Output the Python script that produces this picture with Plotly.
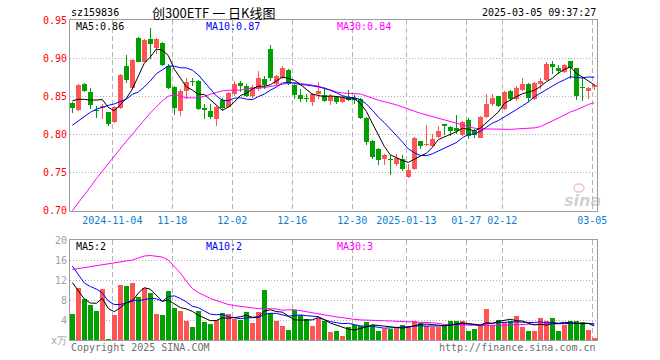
import plotly.graph_objects as go

# ---------------- data ----------------
dates = [
    "2024-10-24", "2024-10-25", "2024-10-28", "2024-10-29", "2024-10-30", "2024-10-31",
    "2024-11-01", "2024-11-04", "2024-11-05", "2024-11-06", "2024-11-07", "2024-11-08",
    "2024-11-11", "2024-11-12", "2024-11-13", "2024-11-14", "2024-11-15",
    "2024-11-18", "2024-11-19", "2024-11-20", "2024-11-21", "2024-11-22",
    "2024-11-25", "2024-11-26", "2024-11-27", "2024-11-28", "2024-11-29",
    "2024-12-02", "2024-12-03", "2024-12-04", "2024-12-05", "2024-12-06",
    "2024-12-09", "2024-12-10", "2024-12-11", "2024-12-12", "2024-12-13",
    "2024-12-16", "2024-12-17", "2024-12-18", "2024-12-19", "2024-12-20",
    "2024-12-23", "2024-12-24", "2024-12-25", "2024-12-26", "2024-12-27",
    "2024-12-30", "2024-12-31", "2025-01-02", "2025-01-03",
    "2025-01-06", "2025-01-07", "2025-01-08", "2025-01-09", "2025-01-10",
    "2025-01-13", "2025-01-14", "2025-01-15", "2025-01-16", "2025-01-17",
    "2025-01-20", "2025-01-21", "2025-01-22", "2025-01-23", "2025-01-24",
    "2025-01-27", "2025-02-05", "2025-02-06", "2025-02-07",
    "2025-02-10", "2025-02-11", "2025-02-12", "2025-02-13", "2025-02-14",
    "2025-02-17", "2025-02-18", "2025-02-19", "2025-02-20", "2025-02-21",
    "2025-02-24", "2025-02-25", "2025-02-26", "2025-02-27", "2025-02-28",
    "2025-03-03", "2025-03-04", "2025-03-05",
]

opens = [0.841, 0.8325, 0.866, 0.856, 0.8316, 0.835, 0.829, 0.8167, 0.834, 0.8895,
         0.8605, 0.9263, 0.8956, 0.9246, 0.913, 0.920, 0.890, 0.8618, 0.831, 0.8575,
         0.8706, 0.870, 0.8342, 0.831, 0.8202, 0.8456, 0.8355, 0.8531, 0.8675, 0.8632,
         0.850, 0.8596, 0.8728, 0.9123, 0.8662, 0.8746, 0.8846, 0.8653, 0.8518, 0.8478,
         0.8421, 0.8531, 0.8518, 0.8443, 0.8487, 0.843, 0.8487, 0.8474, 0.8465, 0.8211,
         0.7908, 0.7807, 0.7684, 0.7675, 0.761, 0.7675, 0.7447, 0.7544, 0.7908, 0.786,
         0.7851, 0.7961, 0.8136, 0.8096, 0.8083, 0.7991, 0.8193, 0.8044, 0.7956, 0.8232,
         0.8399, 0.850, 0.8333, 0.8575, 0.8465, 0.8588, 0.8662, 0.8465, 0.8662, 0.8719,
         0.8917, 0.8868, 0.8816, 0.8965, 0.8868, 0.8623, 0.8575, 0.8627]
highs = [0.842, 0.866, 0.867, 0.8605, 0.837, 0.8395, 0.830, 0.837, 0.879, 0.904,
         0.899, 0.9276, 0.9246, 0.9395, 0.9263, 0.921, 0.8925, 0.864, 0.8596, 0.8737,
         0.8737, 0.871, 0.840, 0.840, 0.837, 0.8474, 0.856, 0.8706, 0.8706, 0.8662,
         0.865, 0.8838, 0.8763, 0.9175, 0.8781, 0.8895, 0.886, 0.8662, 0.8596, 0.8531,
         0.8544, 0.8693, 0.8618, 0.8531, 0.851, 0.850, 0.8588, 0.8518, 0.8474, 0.8224,
         0.793, 0.7816, 0.7741, 0.7728, 0.7741, 0.7728, 0.761, 0.796, 0.7917, 0.8123,
         0.8004, 0.8114, 0.8136, 0.8105, 0.8254, 0.818, 0.8211, 0.807, 0.8246, 0.8531,
         0.8531, 0.8509, 0.8575, 0.8588, 0.864, 0.8737, 0.8671, 0.8684, 0.8737, 0.8947,
         0.8965, 0.8904, 0.8921, 0.8965, 0.8868, 0.875, 0.8618, 0.8658]
lows = [0.828, 0.831, 0.855, 0.833, 0.821, 0.820, 0.8114, 0.815, 0.833, 0.868,
        0.8596, 0.8947, 0.8947, 0.899, 0.9057, 0.890, 0.8596, 0.8254, 0.8246, 0.8465,
        0.864, 0.8325, 0.8202, 0.8202, 0.8105, 0.8325, 0.834, 0.851, 0.8553, 0.8487,
        0.8474, 0.8575, 0.8596, 0.8706, 0.865, 0.8728, 0.865, 0.8465, 0.843, 0.8421,
        0.8368, 0.8465, 0.8421, 0.8386, 0.840, 0.8412, 0.8443, 0.840, 0.8202, 0.786,
        0.7675, 0.7596, 0.7596, 0.7474, 0.7588, 0.7522, 0.743, 0.7535, 0.7807, 0.7851,
        0.7829, 0.7947, 0.7996, 0.7974, 0.8004, 0.7982, 0.7939, 0.7956, 0.7947, 0.8219,
        0.8377, 0.8355, 0.8325, 0.8443, 0.8443, 0.8575, 0.843, 0.8456, 0.8596, 0.8706,
        0.8794, 0.8794, 0.8803, 0.8728, 0.8456, 0.8443, 0.8465, 0.8588]
closes = [0.834, 0.865, 0.8575, 0.8386, 0.8303, 0.837, 0.8136, 0.8355, 0.878, 0.872,
          0.898, 0.8956, 0.9232, 0.918, 0.9246, 0.891, 0.8605, 0.834, 0.8575, 0.8693,
          0.8693, 0.8333, 0.8325, 0.8224, 0.8355, 0.8342, 0.8544, 0.8662, 0.864, 0.851,
          0.8618, 0.8737, 0.865, 0.8737, 0.8763, 0.8868, 0.8662, 0.8518, 0.8465, 0.8465,
          0.8531, 0.8575, 0.8443, 0.8509, 0.843, 0.8487, 0.8456, 0.8456, 0.8211, 0.7904,
          0.7706, 0.7667, 0.7728, 0.766, 0.7697, 0.7544, 0.7535, 0.7952, 0.7851, 0.7877,
          0.7939, 0.8039, 0.8105, 0.8044, 0.8044, 0.8167, 0.7982, 0.7991, 0.8228, 0.8399,
          0.8478, 0.8368, 0.8561, 0.8465, 0.8605, 0.8662, 0.8483, 0.8675, 0.8706, 0.8925,
          0.889, 0.8825, 0.8912, 0.8877, 0.850, 0.8614, 0.8605, 0.8649]

volumes = [5.25, 10.4, 8.2, 7.0, 5.85, 10.2, 0.2, 5.05, 11.0, 10.8,
           11.5, 8.6, 10.4, 9.5, 5.25, 5.05, 9.8, 6.45, 5.85, 3.9,
           2.7, 5.85, 3.65, 3.25, 4.05, 5.5, 5.25, 4.3, 4.1, 5.65,
           3.45, 5.7, 10.0, 5.4, 3.9, 2.85, 2.05, 6.0, 5.05, 4.2,
           2.85, 4.4, 3.85, 1.65, 1.9, 0.85, 2.6, 3.05, 2.85, 3.65,
           3.05, 1.85, 2.2, 2.2, 2.6, 3.05, 2.7, 3.9, 3.4, 2.85,
           2.6, 2.6, 2.85, 3.9, 3.9, 3.9, 1.9, 2.2, 3.05, 6.25,
           3.05, 4.05, 3.5, 3.9, 4.85, 2.7, 1.75, 1.9, 4.5, 3.9,
           4.5, 1.75, 3.05, 3.9, 3.9, 3.7, 2.05, 0.35]

# moving-average values before a full window is available inside the chart
ma5_head = [0.844, 0.846, 0.846, 0.845]
ma10_head = [0.812, 0.818, 0.824, 0.829, 0.833, 0.836, 0.838, 0.840, 0.843]
ma30_head = [0.700, 0.710, 0.721, 0.731, 0.742, 0.752, 0.762, 0.771, 0.781, 0.791,
             0.800, 0.810, 0.819, 0.828, 0.836, 0.844, 0.850, 0.852, 0.850, 0.848,
             0.848, 0.848, 0.850, 0.853, 0.855, 0.857, 0.858, 0.858, 0.858]
vma5_head = [11.5, 9.8, 8.2, 7.4]
vma10_head = [14.8, 13.0, 11.4, 10.7, 10.2, 9.4, 7.8, 7.1, 7.1]
vma30_head = [14.1, 14.3, 14.5, 14.6, 14.8, 15.0, 15.2, 15.4, 15.6, 15.8,
              16.0, 16.4, 16.8, 16.9, 16.8, 16.6, 16.0, 14.8, 13.4, 11.8,
              10.3, 9.5, 8.9, 8.3, 7.9, 7.5, 7.1, 6.9, 6.7]

price_ticks = [0.70, 0.75, 0.80, 0.85, 0.90, 0.95]
vol_ticks = [0, 4, 8, 12, 16, 20]
vol_tick_text = ["x万", "4", "8", "12", "16", "20"]
date_tick_dates = ["2024-11-04", "2024-11-18", "2024-12-02", "2024-12-16", "2024-12-30",
                   "2025-01-13", "2025-01-27", "2025-02-12", "2025-03-05"]

labels_top = dict(code="sz159836", title="创300ETF 一 日K线图", time="2025-03-05 09:37:27",
                  ma5="MA5:0.86", ma10="MA10:0.87", ma30="MA30:0.84",
                  vma5="MA5:2", vma10="MA10:2", vma30="MA30:3",
                  copy="Copyright 2025 SINA.COM", url="http://finance.sina.com.cn")

# ---------------- derived ----------------
def rolling(vals, w, head):
    out = list(head)
    for i in range(len(head), len(vals)):
        out.append(sum(vals[i - w + 1:i + 1]) / w)
    return out

n = len(closes)
idx = list(range(n))
ma5 = rolling(closes, 5, ma5_head)
ma10 = rolling(closes, 10, ma10_head)
ma30 = rolling(closes, 30, ma30_head)
vma5 = rolling(volumes, 5, vma5_head)
vma10 = rolling(volumes, 10, vma10_head)
vma30 = rolling(volumes, 30, vma30_head)

RED = "#ff5454"
GREEN = "#00a000"
MONO = "DejaVu Sans Mono"

up = [c >= o for o, c in zip(opens, closes)]
MINH = 0.0012

fig = go.Figure()

for flag, col in ((True, RED), (False, GREEN)):
    sel = [i for i in idx if up[i] == flag]
    # wicks
    fig.add_trace(go.Bar(
        x=sel, base=[lows[i] for i in sel], y=[highs[i] - lows[i] for i in sel],
        width=0.17, marker=dict(color=col, line=dict(width=0)),
        xaxis="x", yaxis="y", hoverinfo="skip", showlegend=False))
    # bodies
    fig.add_trace(go.Bar(
        x=sel, base=[min(opens[i], closes[i]) for i in sel],
        y=[max(abs(closes[i] - opens[i]), MINH) for i in sel],
        width=0.84, marker=dict(color=col, line=dict(width=0)),
        xaxis="x", yaxis="y", hoverinfo="skip", showlegend=False))
    # volume
    fig.add_trace(go.Bar(
        x=sel, y=[volumes[i] for i in sel], base=0,
        width=0.84, marker=dict(color=col, line=dict(width=0)),
        xaxis="x2", yaxis="y2", hoverinfo="skip", showlegend=False))

for series, col, ax, ay in ((ma30, "#ff00ff", "x", "y"), (ma10, "#0000ff", "x", "y"),
                            (ma5, "#000000", "x", "y"),
                            (vma30, "#ff00ff", "x2", "y2"), (vma10, "#0000ff", "x2", "y2"),
                            (vma5, "#000000", "x2", "y2")):
    fig.add_trace(go.Scatter(x=idx, y=series, mode="lines", line=dict(color=col, width=1),
                             xaxis=ax, yaxis=ay, hoverinfo="skip", showlegend=False))

# ---------------- layout ----------------
PL, PR, PT, PB = 70, 597, 20, 340
PW, PH = PR - PL, PB - PT
SPACING = 6.0
x0 = -(72.3 - PL) / SPACING
xr = [x0, x0 + PW / SPACING]

tick_pos = [dates.index(d) - 0.33 for d in date_tick_dates]
tick_txt = []
prev_year = None
for d in date_tick_dates:
    y = d[:4]
    tick_txt.append(d if y != prev_year else d[5:])
    prev_year = y

def fx(px):
    return (px - PL) / PW

def fy(py):
    return (PB - py) / PH

main_dom = [fy(210.7), 1.0]
vol_dom = [0.0, fy(240)]

axis_common = dict(showline=True, mirror=True, linecolor="#9c9c9c", linewidth=1,
                   zeroline=False, fixedrange=True, ticks="")

fig.update_layout(
    width=660, height=360,
    margin=dict(l=PL, r=660 - PR, t=PT, b=360 - PB, pad=0),
    paper_bgcolor="white", plot_bgcolor="white",
    barmode="overlay", bargap=0, showlegend=False, hovermode=False,
    xaxis=dict(domain=[0, 1], anchor="y", range=xr, tickvals=tick_pos, ticktext=tick_txt,
               showgrid=True, gridcolor="#b4b4b4", griddash="5px,3px", gridwidth=1,
               tickfont=dict(family=MONO, size=10, color="#0a7fd2"), **axis_common),
    xaxis2=dict(domain=[0, 1], anchor="y2", range=xr, tickvals=tick_pos, showticklabels=False,
                showgrid=True, gridcolor="#b4b4b4", griddash="5px,3px", gridwidth=1,
                **axis_common),
    yaxis=dict(domain=main_dom, anchor="x", range=[0.70, 0.95], tickvals=price_ticks,
               ticktext=["%.2f" % v for v in price_ticks],
               showgrid=True, gridcolor="#b0b0b0", griddash="1px,2px", gridwidth=1,
               tickfont=dict(family=MONO, size=10, color="#ff0000"), **axis_common),
    yaxis2=dict(domain=vol_dom, anchor="x2", range=[0, 20], tickvals=vol_ticks,
                ticktext=vol_tick_text,
                showgrid=True, gridcolor="#b0b0b0", griddash="1px,2px", gridwidth=1,
                tickfont=dict(family=MONO, size=10, color="#a0a0a0"), **axis_common),
)

def note(text, px, py, color="#000000", size=10, anchor="left", family=MONO, **kw):
    fig.add_annotation(text=text, x=fx(px), y=fy(py), xref="paper", yref="paper",
                       xanchor=anchor, yanchor="middle", showarrow=False,
                       font=dict(family=family, size=size, color=color, **kw))

note(labels_top["code"], 69, 13)
note(labels_top["title"], 214, 13, size=13, anchor="center",
     family="Noto Sans CJK SC, sans-serif")
note(labels_top["time"], 598, 13, anchor="right")
note(labels_top["ma5"], 74, 26)
note(labels_top["ma10"], 204, 26, color="#0000ff")
note(labels_top["ma30"], 335, 26, color="#ff00ff")
note(labels_top["vma5"], 74, 246.5)
note(labels_top["vma10"], 204, 246.5, color="#0000ff")
note(labels_top["vma30"], 335, 246.5, color="#ff00ff")
note(labels_top["copy"], 69, 347, color="#6e6e6e")
note(labels_top["url"], 598, 347, color="#6e6e6e", anchor="right")

# sina watermark
fig.add_annotation(text="<b><i>sina</i></b>", x=fx(582), y=fy(200), xref="paper", yref="paper",
                   xanchor="center", yanchor="middle", showarrow=False,
                   font=dict(family="DejaVu Sans", size=16, color="rgba(170,170,170,0.55)"))
fig.add_shape(type="circle", xref="paper", yref="paper",
              x0=fx(574), x1=fx(584), y0=fy(192), y1=fy(184),
              line=dict(color="rgba(230,120,120,0.45)", width=1.5))

fig.write_html("out.html", config={"displayModeBar": False, "staticPlot": True},
               post_script="document.body.style.margin='0';document.body.style.overflow='hidden';")
